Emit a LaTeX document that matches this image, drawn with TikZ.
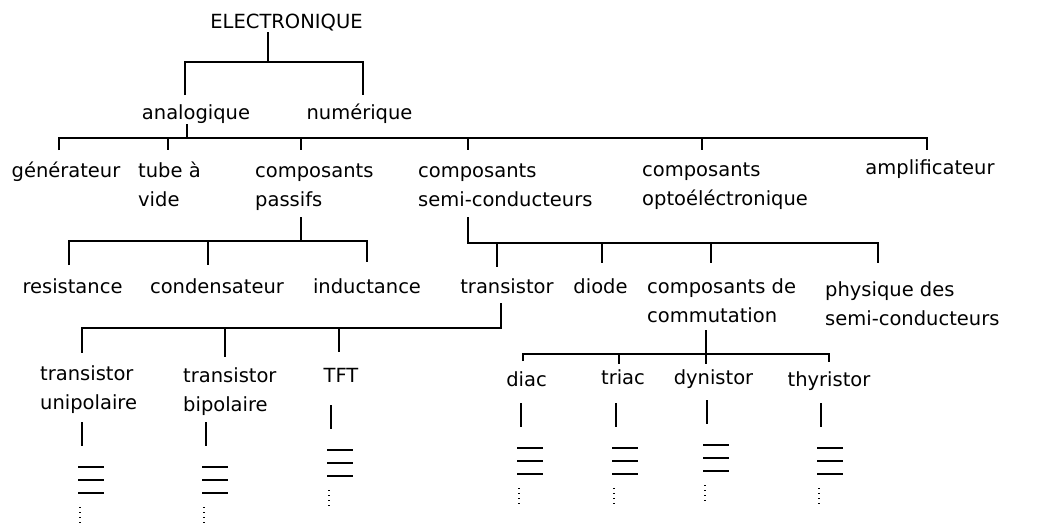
\documentclass[tikz,border=0pt]{standalone}
\usepackage{fontspec}
\setmainfont{DejaVu Sans}
\newcommand\moreitems[2]{%
  \draw[tree] (#1,#2) -- (#1,#2+24);
  \foreach \dy in {45,58,71} \draw[tree] (#1-4,#2+\dy) -- (#1+22,#2+\dy);
  \draw[dotline] (#1-2,#2+85) -- (#1-2,#2+101);
}
\begin{document}
\begin{tikzpicture}[x=1pt,y=-1pt,
  lbl/.style={anchor=base west, inner sep=0pt, align=left, font=\fontsize{19.5}{29}\selectfont},
  clbl/.style={anchor=base, inner sep=0pt, font=\fontsize{19.5}{29}\selectfont},
  tree/.style={line width=1.1pt, black},
  dotline/.style={line width=1.2pt, black, dash pattern=on 1.2pt off 3.8pt}]
\useasboundingbox (0,0) rectangle (1050,523);
% labels (multi-line labels: base = baseline of last line)
\node[clbl] (elec) at (286.5,28) {ELECTRONIQUE};
\node[clbl] (ana) at (196,119) {analogique};
\node[clbl] (num) at (359.5,119) {numérique};
\node[clbl] (gen) at (66,177) {générateur};
\node[lbl] (tube) at (138,206) {tube à\\vide};
\node[lbl] (pass) at (255,206) {composants\\passifs};
\node[lbl] (semi) at (418,206) {composants\\semi-conducteurs};
\node[lbl] (opto) at (642,205) {composants\\optoéléctronique};
\node[clbl] (ampl) at (930,174) {amplificateur};
\node[clbl] (res) at (72.5,293) {resistance};
\node[clbl] (cond) at (217,293) {condensateur};
\node[clbl] (ind) at (367,293) {inductance};
\node[clbl] (tran) at (507,293) {transistor};
\node[clbl] (diode) at (600.5,293) {diode};
\node[lbl] (comm) at (647,322) {composants de\\commutation};
\node[lbl] (phys) at (825,325) {physique des\\semi-conducteurs};
\node[lbl] (uni) at (40,409) {transistor\\unipolaire};
\node[lbl] (bip) at (183,411) {transistor\\bipolaire};
\node[clbl] (tft) at (341,382) {TFT};
\node[clbl] (diac) at (526.5,386) {diac};
\node[clbl] (triac) at (623,384) {triac};
\node[clbl] (dyn) at (713.5,384) {dynistor};
\node[clbl] (thy) at (829,386) {thyristor};
% tree connectors
\coordinate (jE) at (268,62);
\draw[tree] (268,32) -- (jE);
\draw[tree] (185,95) -- (185,62) -- (363,62) -- (363,95);
\coordinate (jA) at (187,138);
\draw[tree] (187,124) -- (jA);
\draw[tree] (59,150) -- (59,138) -- (927,138) -- (927,150);
\foreach \x in {168,301,468,702} \draw[tree] (\x,138) -- (\x,150);
\coordinate (jP) at (301,241);
\draw[tree] (301,217) -- (jP);
\draw[tree] (69,265) -- (69,241) -- (367,241) -- (367,262);
\draw[tree] (208,241) -- (208,265);
\draw[tree] (468,217) -- (468,243) -- (878,243) -- (878,263);
\draw[tree] (497,243) -- (497,267);
\draw[tree] (602,243) -- (602,263);
\draw[tree] (711,243) -- (711,263);
\draw[tree] (501,303) -- (501,328) -- (82,328) -- (82,353);
\draw[tree] (225,328) -- (225,357);
\draw[tree] (339,328) -- (339,352);
\draw[tree] (706,330) -- (706,364);
\draw[tree] (523,361) -- (523,354) -- (829,354) -- (829,362);
\draw[tree] (619,354) -- (619,364);
% continuation marks
\moreitems{82}{422}
\moreitems{206}{422}
\moreitems{331}{405}
\moreitems{521}{403}
\moreitems{616}{403}
\moreitems{707}{400}
\moreitems{821}{403}
\end{tikzpicture}
\end{document}
